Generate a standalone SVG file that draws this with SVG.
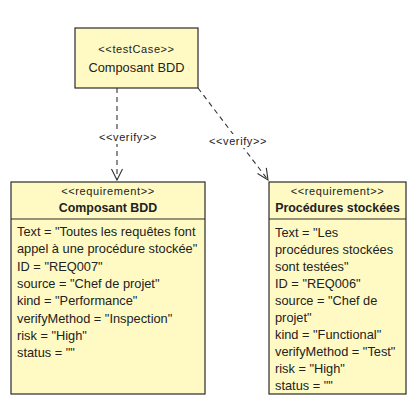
<svg xmlns="http://www.w3.org/2000/svg" width="417" height="407" viewBox="0 0 417 407">
<style>
.box{fill:#FFFAC4;stroke:#2b2b2b;stroke-width:1.2}
.sep{stroke:#2b2b2b;stroke-width:1.2}
text{font-family:"Liberation Sans",Arial,sans-serif;fill:#222}
.st{font-size:11px;letter-spacing:0.6px;text-anchor:middle}
.nm{font-size:12.8px;text-anchor:middle}
.b{font-weight:bold;font-size:12.4px}
.at{font-size:12.8px}
.lbl{font-size:11px;letter-spacing:0.6px;text-anchor:middle}
.dep{stroke:#333;stroke-width:1.1;fill:none;stroke-dasharray:5,4}
.ah{stroke:#333;stroke-width:1.1;fill:none}
.lb{fill:#fff}
</style>
<rect width="417" height="407" fill="#fff"/>
<g id="testcase">
<rect class="box" x="75" y="28" width="123" height="60"/>
<text class="st" x="136.5" y="53">&lt;&lt;testCase&gt;&gt;</text>
<text class="nm" x="136.5" y="72">Composant BDD</text>
</g>
<g id="req1">
<rect class="box" x="11" y="182" width="194" height="212"/>
<text class="st" x="108" y="195">&lt;&lt;requirement&gt;&gt;</text>
<text class="nm b" x="108" y="212">Composant BDD</text>
<line class="sep" x1="11" y1="219" x2="205" y2="219"/>
<text class="at" x="17" y="236">Text = "Toutes les requêtes font</text>
<text class="at" x="17" y="253.3">appel à une procédure stockée"</text>
<text class="at" x="17" y="270.6">ID = "REQ007"</text>
<text class="at" x="17" y="287.9">source = "Chef de projet"</text>
<text class="at" x="17" y="305.2">kind = "Performance"</text>
<text class="at" x="17" y="322.5">verifyMethod = "Inspection"</text>
<text class="at" x="17" y="339.8">risk = "High"</text>
<text class="at" x="17" y="357.1">status = ""</text>
</g>
<g id="req2">
<rect class="box" x="269" y="182" width="137" height="212"/>
<text class="st" x="337.5" y="195">&lt;&lt;requirement&gt;&gt;</text>
<text class="nm b" x="337.5" y="212">Procédures stockées</text>
<line class="sep" x1="269" y1="219" x2="406" y2="219"/>
<text class="at" x="275" y="237">Text = "Les</text>
<text class="at" x="275" y="254">procédures stockées</text>
<text class="at" x="275" y="271">sont testées"</text>
<text class="at" x="275" y="288">ID = "REQ006"</text>
<text class="at" x="275" y="305">source = "Chef de</text>
<text class="at" x="275" y="322">projet"</text>
<text class="at" x="275" y="339">kind = "Functional"</text>
<text class="at" x="275" y="356">verifyMethod = "Test"</text>
<text class="at" x="275" y="373">risk = "High"</text>
<text class="at" x="275" y="390">status = ""</text>
</g>
<g id="connectors">
<line class="dep" x1="117" y1="88" x2="117" y2="180"/>
<polyline class="ah" points="111.5,169 117,180 122.5,169"/>
<rect class="lb" x="98" y="130" width="60" height="14"/>
<text class="lbl" x="128" y="141">&lt;&lt;verify&gt;&gt;</text>
<line class="dep" x1="198" y1="88" x2="268" y2="180"/>
<polyline class="ah" points="257.5,173.5 268,180 266.3,167.8"/>
<rect class="lb" x="208" y="134" width="61" height="14"/>
<text class="lbl" x="238" y="145">&lt;&lt;verify&gt;&gt;</text>
</g>
</svg>
